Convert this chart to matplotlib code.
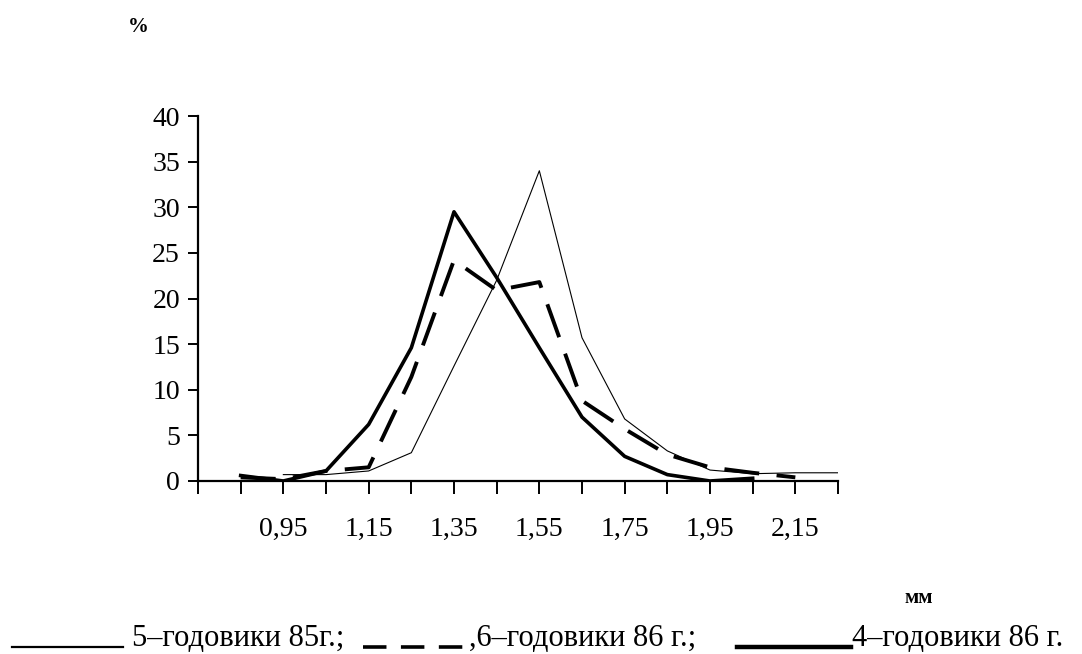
"""Size distribution of fish by age group (Excel-style line chart)."""

import matplotlib
matplotlib.use("Agg")
import matplotlib.pyplot as plt
from matplotlib.lines import Line2D

plt.rcParams["font.family"] = ["Liberation Serif", "DejaVu Serif"]

# categories, mm (step 0.1), index 0 is the axis origin
sizes = [0.75, 0.85, 0.95, 1.05, 1.15, 1.25, 1.35, 1.45, 1.55, 1.65,
         1.75, 1.85, 1.95, 2.05, 2.15, 2.25]
shown_labels = ["0,95", "1,15", "1,35", "1,55", "1,75", "1,95", "2,15"]

# series, % (None where the series has no point)
fish5_85 = [None, None, 0.7, 0.7, 1.1, 3.1, 12.6, 22.0, 34.0, 15.7,
            6.8, 3.3, 1.2, 0.8, 0.9, 0.9]
fish6_86 = [None, 0.4, 0.2, 1.1, 1.5, 11.4, 24.2, 20.9, 21.8, 8.8,
            5.7, 2.9, 1.5, 0.9, 0.4, None]
fish4_86 = [None, 0.6, 0.0, 1.1, 6.2, 14.6, 29.5, 22.3, 14.6, 7.0,
            2.7, 0.7, 0.0, 0.3, None, None]

legend_labels = ["5–годовики 85г.;", ",6–годовики 86 г.;", "4–годовики 86 г."]


def to_xy(values):
    xs = [i for i, v in enumerate(values) if v is not None]
    ys = [v for v in values if v is not None]
    return xs, ys


W, H = 1082, 654
fig = plt.figure(figsize=(W / 100, H / 100), dpi=100)
ax = fig.add_axes([198 / W, 1 - 481 / H, 640 / W, 365 / H])

x, y = to_xy(fish5_85)
ax.plot(x, y, color="black", lw=0.8)
x, y = to_xy(fish6_86)
ax.plot(x, y, color="black", lw=2.8, dashes=(9, 4.5))
x, y = to_xy(fish4_86)
ax.plot(x, y, color="black", lw=2.6)

ax.set_xlim(0, len(sizes) - 1)
ax.set_ylim(0, 40)
for side in ("top", "right"):
    ax.spines[side].set_visible(False)
ax.spines["left"].set_linewidth(1.6)
ax.spines["bottom"].set_linewidth(1.6)

ax.set_yticks(range(0, 41, 5))
ax.tick_params(axis="y", direction="out", length=7, width=1.4, pad=6, labelsize=20)

# every category gets a tick, every second one a label
xlabels = []
for i in range(len(sizes)):
    lab = f"{sizes[i]:.2f}".replace(".", ",")
    xlabels.append(lab if lab in shown_labels else "")
ax.set_xticks(range(len(sizes)))
ax.set_xticklabels(xlabels)
ax.tick_params(axis="x", direction="out", length=9, width=1.4, pad=17, labelsize=20)

fig.text(138 / W, 1 - 27 / H, "%", fontsize=15, fontweight="bold", ha="center", va="center")
fig.text(919 / W, 1 - 598 / H, "мм", fontsize=15, fontweight="bold", ha="center", va="center")

# legend row: line samples followed by captions
ly = 1 - 647 / H
fig.add_artist(Line2D([12 / W, 123 / W], [ly, ly], color="black", lw=1.6))
fig.add_artist(Line2D([363 / W, 467 / W], [ly, ly], color="black", lw=2.6, dashes=(6.5, 4)))
fig.add_artist(Line2D([737 / W, 851 / W], [ly, ly], color="black", lw=3.2))
ty = 1 - 646 / H
fig.text(132 / W, ty, legend_labels[0], fontsize=22, ha="left", va="baseline")
fig.text(469 / W, ty, legend_labels[1], fontsize=22, ha="left", va="baseline")
fig.text(852 / W, ty, legend_labels[2], fontsize=22, ha="left", va="baseline")

fig.savefig("out.png", dpi=100)
